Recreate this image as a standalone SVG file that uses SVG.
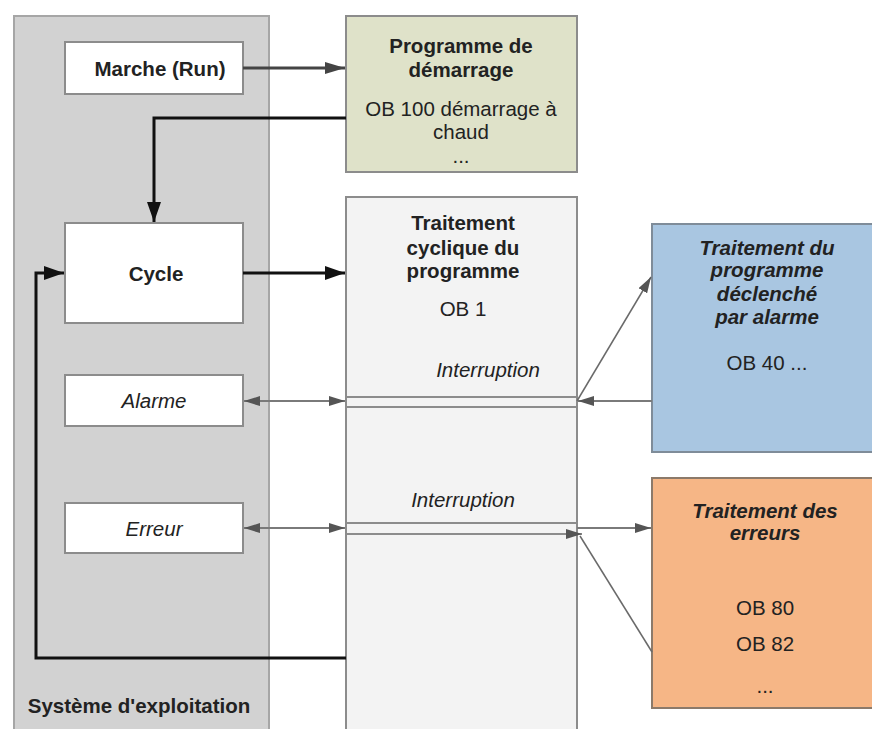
<svg xmlns="http://www.w3.org/2000/svg" width="872" height="729" viewBox="0 0 872 729">
  <style>
    text { font-family: "Liberation Sans", Arial, sans-serif; font-size: 20.5px; fill: #222; text-anchor: middle; dominant-baseline: central; }
    .b { font-weight: bold; }
    .i { font-style: italic; }
    .bi { font-weight: bold; font-style: italic; }
    .box { fill: #ffffff; stroke: #8c8c8c; stroke-width: 2; }
    .thick { fill: none; stroke: #111; stroke-width: 3; }
    .mid { fill: none; stroke: #444; stroke-width: 3; }
    .thin { fill: none; stroke: #7a7a7a; stroke-width: 2; }
    .hair { fill: none; stroke: #6a6a6a; stroke-width: 1.5; }
    .band { fill: none; stroke: #8c8c8c; stroke-width: 2; }
  </style>
  <defs>
    <marker id="big" markerUnits="userSpaceOnUse" markerWidth="20" markerHeight="14" refX="20" refY="7" orient="auto">
      <path d="M0,0 L20,7 L0,14 Z" fill="#111"/>
    </marker>
    <marker id="bigGray" markerUnits="userSpaceOnUse" markerWidth="20" markerHeight="12" refX="20" refY="6" orient="auto">
      <path d="M0,0 L20,6 L0,12 Z" fill="#444"/>
    </marker>
    <marker id="small" markerUnits="userSpaceOnUse" markerWidth="16" markerHeight="10" refX="16" refY="5" orient="auto-start-reverse">
      <path d="M0,0 L16,5 L0,10 Z" fill="#555"/>
    </marker>
  </defs>

  <rect width="872" height="729" fill="#ffffff"/>

  <!-- operating system panel -->
  <g id="os">
    <rect x="14" y="16" width="255" height="730" fill="#d2d2d2" stroke="#a6a6a6" stroke-width="2"/>
    <text x="139" y="705" class="b">Système d'exploitation</text>
  </g>

  <g id="run">
    <rect x="65" y="42" width="178" height="52" class="box"/>
    <text x="160" y="68" class="b">Marche (Run)</text>
  </g>

  <g id="cycle">
    <rect x="65" y="223" width="178" height="100" class="box"/>
    <text x="156" y="273" class="b">Cycle</text>
  </g>

  <g id="alarm">
    <rect x="65" y="375" width="178" height="51" class="box"/>
    <text x="154" y="400" class="i">Alarme</text>
  </g>

  <g id="error">
    <rect x="65" y="503" width="178" height="50" class="box"/>
    <text x="154" y="528" class="i">Erreur</text>
  </g>

  <g id="startup">
    <rect x="346" y="16" width="231" height="156" fill="#dfe2c9" stroke="#8c8c8c" stroke-width="2"/>
    <text x="461" y="45" class="b">Programme de</text>
    <text x="461" y="69" class="b">démarrage</text>
    <text x="461" y="108">OB 100 démarrage à</text>
    <text x="461" y="131">chaud</text>
    <text x="461" y="155">...</text>
  </g>

  <g id="cyclic">
    <rect x="346" y="197" width="231" height="550" fill="#f3f3f3" stroke="#8c8c8c" stroke-width="2"/>
    <text x="463" y="222" class="b">Traitement</text>
    <text x="463" y="247" class="b">cyclique du</text>
    <text x="463" y="270" class="b">programme</text>
    <text x="463" y="308">OB 1</text>
    <text x="488" y="369" class="i">Interruption</text>
    <text x="463" y="499" class="i">Interruption</text>
    <line x1="346" y1="397" x2="577" y2="397" class="band"/>
    <line x1="346" y1="407" x2="577" y2="407" class="band"/>
    <line x1="346" y1="523" x2="577" y2="523" class="band"/>
  </g>

  <g id="alarm-ob">
    <rect x="652" y="224" width="230" height="228" fill="#a9c6e1" stroke="#7f8c99" stroke-width="2"/>
    <text x="767" y="247" class="bi">Traitement du</text>
    <text x="767" y="269" class="bi">programme</text>
    <text x="767" y="293" class="bi">déclenché</text>
    <text x="767" y="316" class="bi">par alarme</text>
    <text x="767" y="362">OB 40 ...</text>
  </g>

  <g id="error-ob">
    <rect x="652" y="478" width="230" height="230" fill="#f6b686" stroke="#8c7a6a" stroke-width="2"/>
    <text x="765" y="510" class="bi">Traitement des</text>
    <text x="765" y="532" class="bi">erreurs</text>
    <text x="765" y="607">OB 80</text>
    <text x="765" y="643">OB 82</text>
    <text x="765" y="685">...</text>
  </g>

  <g id="connectors">
    <!-- start-up -->
    <line x1="243" y1="68" x2="345" y2="68" class="mid" marker-end="url(#bigGray)"/>
    <polyline points="346,118 154,118 154,222" class="thick" marker-end="url(#big)"/>
    <!-- cycle -->
    <line x1="243" y1="273" x2="345" y2="273" class="thick" marker-end="url(#big)"/>
    <polyline points="346,658 36,658 36,273 64,273" class="thick" marker-end="url(#big)"/>
    <!-- alarm -->
    <line x1="244" y1="401" x2="345" y2="401" class="thin" marker-start="url(#small)" marker-end="url(#small)"/>
    <line x1="652" y1="401" x2="578" y2="401" class="thin" marker-end="url(#small)"/>
    <line x1="577" y1="401" x2="651" y2="277" class="hair" marker-end="url(#small)"/>
    <!-- error -->
    <line x1="244" y1="528" x2="345" y2="528" class="thin" marker-start="url(#small)" marker-end="url(#small)"/>
    <line x1="346" y1="534" x2="582" y2="534" class="band" marker-end="url(#small)"/>
    <line x1="577" y1="528" x2="651" y2="528" class="thin" marker-end="url(#small)"/>
    <line x1="580" y1="536" x2="652" y2="652" class="hair"/>
  </g>
</svg>
